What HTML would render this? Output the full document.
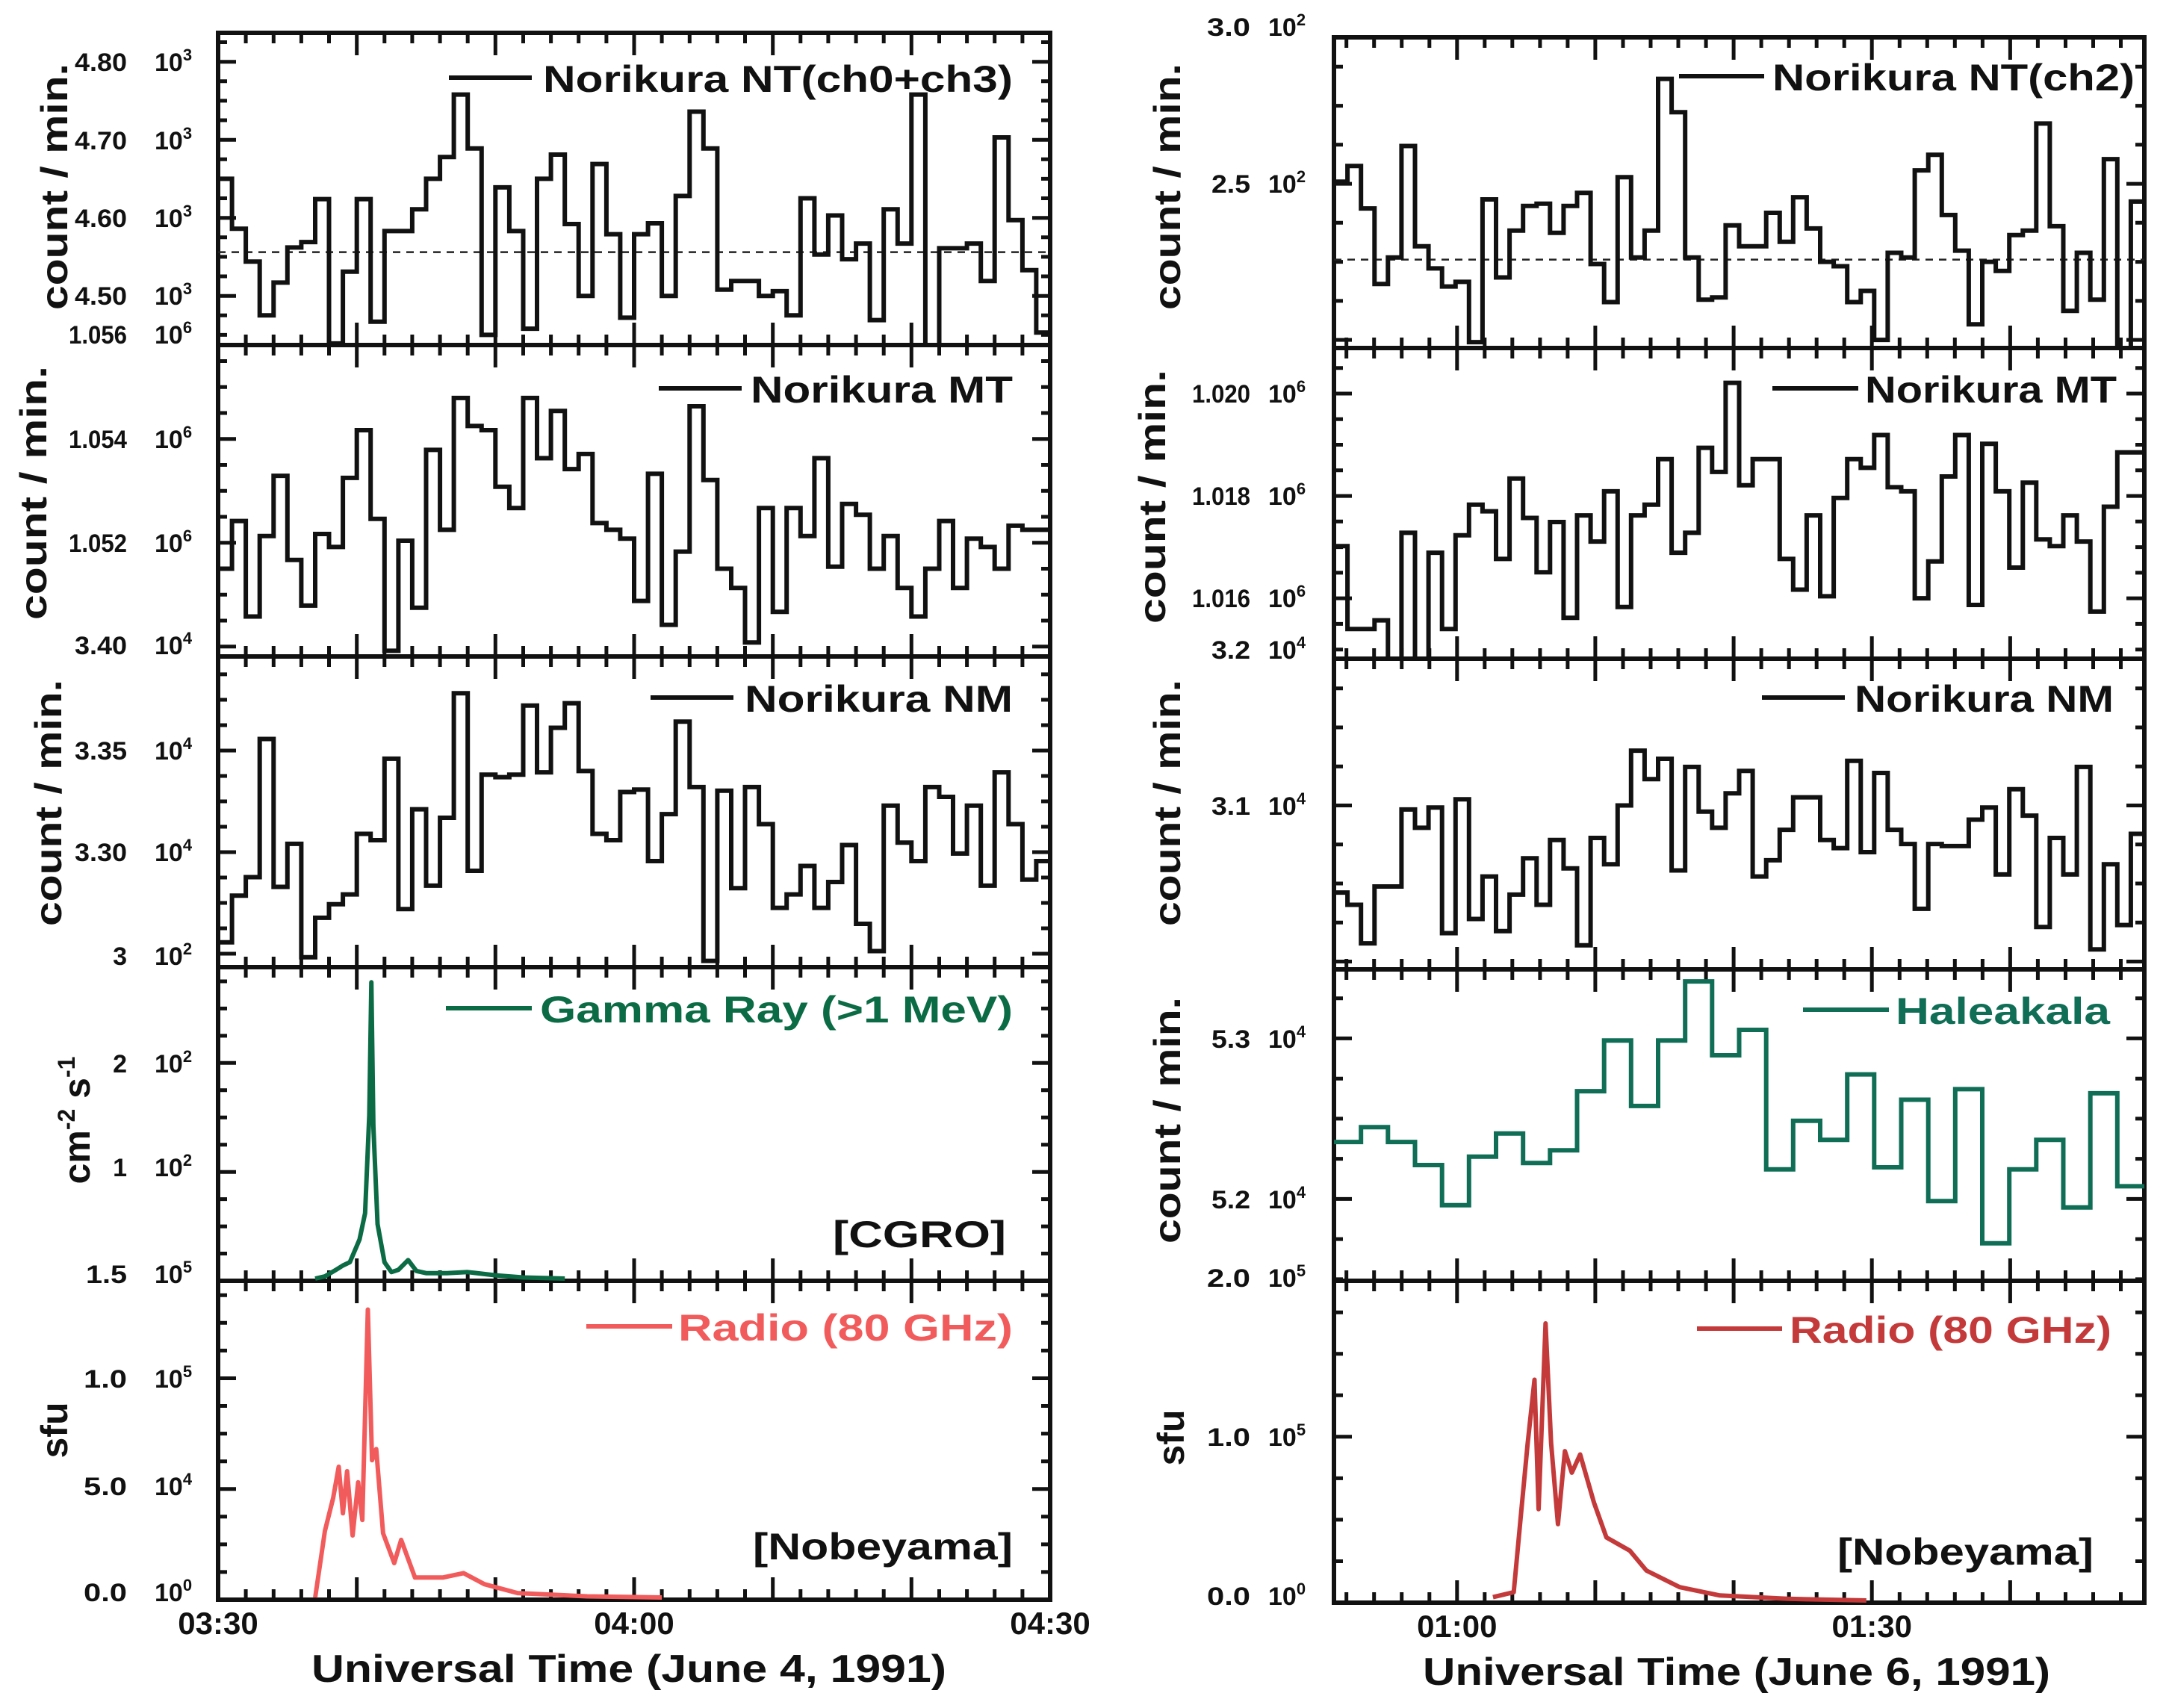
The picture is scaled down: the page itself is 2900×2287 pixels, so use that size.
<!DOCTYPE html>
<html><head><meta charset="utf-8">
<style>
html,body{margin:0;padding:0;background:#fff;}
svg{display:block;}
text{font-family:"Liberation Sans",Arial,sans-serif;font-weight:bold;fill:#111;}
</style></head>
<body>
<svg id="fig" xmlns="http://www.w3.org/2000/svg" width="2900" height="2287" viewBox="0 0 2900 2287">
<rect x="0" y="0" width="2900" height="2287" fill="#fff"/>
<g id="layer"></g>

<g font-size="34">
 <text x="170" y="95" text-anchor="end" textLength="70" lengthAdjust="spacingAndGlyphs">4.80</text>
 <text x="170" y="200" text-anchor="end" textLength="70" lengthAdjust="spacingAndGlyphs">4.70</text>
 <text x="170" y="304" text-anchor="end" textLength="70" lengthAdjust="spacingAndGlyphs">4.60</text>
 <text x="170" y="408" text-anchor="end" textLength="70" lengthAdjust="spacingAndGlyphs">4.50</text>
 <text x="170" y="460" text-anchor="end" textLength="78" lengthAdjust="spacingAndGlyphs">1.056</text>
 <text x="170" y="600" text-anchor="end" textLength="78" lengthAdjust="spacingAndGlyphs">1.054</text>
 <text x="170" y="739" text-anchor="end" textLength="78" lengthAdjust="spacingAndGlyphs">1.052</text>
 <text x="170" y="876" text-anchor="end" textLength="70" lengthAdjust="spacingAndGlyphs">3.40</text>
 <text x="170" y="1017" text-anchor="end" textLength="70" lengthAdjust="spacingAndGlyphs">3.35</text>
 <text x="170" y="1153" text-anchor="end" textLength="70" lengthAdjust="spacingAndGlyphs">3.30</text>
 <text x="170" y="1292" text-anchor="end">3</text>
 <text x="170" y="1436" text-anchor="end">2</text>
 <text x="170" y="1575" text-anchor="end">1</text>
 <text x="170" y="1718" text-anchor="end" textLength="55" lengthAdjust="spacingAndGlyphs">1.5</text>
 <text x="170" y="1858" text-anchor="end" textLength="58" lengthAdjust="spacingAndGlyphs">1.0</text>
 <text x="170" y="2002" text-anchor="end" textLength="58" lengthAdjust="spacingAndGlyphs">5.0</text>
 <text x="170" y="2144" text-anchor="end" textLength="58" lengthAdjust="spacingAndGlyphs">0.0</text>
</g>
<g font-size="34">
 <text x="207" y="95">10<tspan font-size="22" dy="-14">3</tspan></text>
 <text x="207" y="200">10<tspan font-size="22" dy="-14">3</tspan></text>
 <text x="207" y="304">10<tspan font-size="22" dy="-14">3</tspan></text>
 <text x="207" y="408">10<tspan font-size="22" dy="-14">3</tspan></text>
 <text x="207" y="460">10<tspan font-size="22" dy="-14">6</tspan></text>
 <text x="207" y="600">10<tspan font-size="22" dy="-14">6</tspan></text>
 <text x="207" y="739">10<tspan font-size="22" dy="-14">6</tspan></text>
 <text x="207" y="876">10<tspan font-size="22" dy="-14">4</tspan></text>
 <text x="207" y="1017">10<tspan font-size="22" dy="-14">4</tspan></text>
 <text x="207" y="1153">10<tspan font-size="22" dy="-14">4</tspan></text>
 <text x="207" y="1292">10<tspan font-size="22" dy="-14">2</tspan></text>
 <text x="207" y="1436">10<tspan font-size="22" dy="-14">2</tspan></text>
 <text x="207" y="1575">10<tspan font-size="22" dy="-14">2</tspan></text>
 <text x="207" y="1718">10<tspan font-size="22" dy="-14">5</tspan></text>
 <text x="207" y="1858">10<tspan font-size="22" dy="-14">5</tspan></text>
 <text x="207" y="2002">10<tspan font-size="22" dy="-14">4</tspan></text>
 <text x="207" y="2144">10<tspan font-size="22" dy="-14">0</tspan></text>
</g>
<g font-size="34">
 <text x="1674" y="48" text-anchor="end" textLength="58" lengthAdjust="spacingAndGlyphs">3.0</text>
 <text x="1674" y="258" text-anchor="end" textLength="52" lengthAdjust="spacingAndGlyphs">2.5</text>
 <text x="1674" y="539" text-anchor="end" textLength="78" lengthAdjust="spacingAndGlyphs">1.020</text>
 <text x="1674" y="676" text-anchor="end" textLength="78" lengthAdjust="spacingAndGlyphs">1.018</text>
 <text x="1674" y="813" text-anchor="end" textLength="78" lengthAdjust="spacingAndGlyphs">1.016</text>
 <text x="1674" y="882" text-anchor="end" textLength="52" lengthAdjust="spacingAndGlyphs">3.2</text>
 <text x="1674" y="1091" text-anchor="end" textLength="52" lengthAdjust="spacingAndGlyphs">3.1</text>
 <text x="1674" y="1403" text-anchor="end" textLength="52" lengthAdjust="spacingAndGlyphs">5.3</text>
 <text x="1674" y="1618" text-anchor="end" textLength="52" lengthAdjust="spacingAndGlyphs">5.2</text>
 <text x="1674" y="1723" text-anchor="end" textLength="58" lengthAdjust="spacingAndGlyphs">2.0</text>
 <text x="1674" y="1936" text-anchor="end" textLength="58" lengthAdjust="spacingAndGlyphs">1.0</text>
 <text x="1674" y="2149" text-anchor="end" textLength="58" lengthAdjust="spacingAndGlyphs">0.0</text>
</g>
<g font-size="34">
 <text x="1698" y="48">10<tspan font-size="22" dy="-14">2</tspan></text>
 <text x="1698" y="258">10<tspan font-size="22" dy="-14">2</tspan></text>
 <text x="1698" y="539">10<tspan font-size="22" dy="-14">6</tspan></text>
 <text x="1698" y="676">10<tspan font-size="22" dy="-14">6</tspan></text>
 <text x="1698" y="813">10<tspan font-size="22" dy="-14">6</tspan></text>
 <text x="1698" y="882">10<tspan font-size="22" dy="-14">4</tspan></text>
 <text x="1698" y="1091">10<tspan font-size="22" dy="-14">4</tspan></text>
 <text x="1698" y="1403">10<tspan font-size="22" dy="-14">4</tspan></text>
 <text x="1698" y="1618">10<tspan font-size="22" dy="-14">4</tspan></text>
 <text x="1698" y="1723">10<tspan font-size="22" dy="-14">5</tspan></text>
 <text x="1698" y="1936">10<tspan font-size="22" dy="-14">5</tspan></text>
 <text x="1698" y="2149">10<tspan font-size="22" dy="-14">0</tspan></text>
</g>

<g font-size="50">
 <text transform="translate(90,250) rotate(-90)" text-anchor="middle" textLength="330" lengthAdjust="spacingAndGlyphs">count / min.</text>
 <text transform="translate(62,660) rotate(-90)" text-anchor="middle" textLength="340" lengthAdjust="spacingAndGlyphs">count / min.</text>
 <text transform="translate(82,1075) rotate(-90)" text-anchor="middle" textLength="330" lengthAdjust="spacingAndGlyphs">count / min.</text>
 <text transform="translate(120,1500) rotate(-90)" text-anchor="middle">cm<tspan font-size="32" dy="-20">-2</tspan><tspan dy="20"> s</tspan><tspan font-size="32" dy="-20">-1</tspan></text>
 <text transform="translate(90,1915) rotate(-90)" text-anchor="middle">sfu</text>
 <text transform="translate(1580,250) rotate(-90)" text-anchor="middle" textLength="330" lengthAdjust="spacingAndGlyphs">count / min.</text>
 <text transform="translate(1560,665) rotate(-90)" text-anchor="middle" textLength="340" lengthAdjust="spacingAndGlyphs">count / min.</text>
 <text transform="translate(1580,1075) rotate(-90)" text-anchor="middle" textLength="330" lengthAdjust="spacingAndGlyphs">count / min.</text>
 <text transform="translate(1580,1500) rotate(-90)" text-anchor="middle" textLength="330" lengthAdjust="spacingAndGlyphs">count / min.</text>
 <text transform="translate(1585,1925) rotate(-90)" text-anchor="middle">sfu</text>
</g>

<g font-size="50">
 <g><line x1="601" y1="104" x2="712" y2="104" stroke="#111" stroke-width="6"/><text x="727" y="123" textLength="629" lengthAdjust="spacingAndGlyphs">Norikura   NT(ch0+ch3)</text></g>
 <g><line x1="882" y1="520" x2="993" y2="520" stroke="#111" stroke-width="6"/><text x="1005" y="539" textLength="351" lengthAdjust="spacingAndGlyphs">Norikura  MT</text></g>
 <g><line x1="871" y1="934" x2="982" y2="934" stroke="#111" stroke-width="6"/><text x="997" y="953" textLength="359" lengthAdjust="spacingAndGlyphs">Norikura  NM</text></g>
 <g><line x1="597" y1="1350" x2="712" y2="1350" stroke="#0b6b44" stroke-width="6"/><text x="723" y="1369" textLength="633" lengthAdjust="spacingAndGlyphs" style="fill:#0b6b44">Gamma  Ray  (&gt;1  MeV)</text></g>
 <g><line x1="785" y1="1776" x2="900" y2="1776" stroke="#f25b5b" stroke-width="6"/><text x="908" y="1795" textLength="448" lengthAdjust="spacingAndGlyphs" style="fill:#f25b5b">Radio  (80  GHz)</text></g>
 <text x="1115" y="1670" textLength="232" lengthAdjust="spacingAndGlyphs">[CGRO]</text>
 <text x="1008" y="2088" textLength="348" lengthAdjust="spacingAndGlyphs">[Nobeyama]</text>
 <g><line x1="2248" y1="102" x2="2362" y2="102" stroke="#111" stroke-width="6"/><text x="2373" y="121" textLength="485" lengthAdjust="spacingAndGlyphs">Norikura   NT(ch2)</text></g>
 <g><line x1="2373" y1="520" x2="2488" y2="520" stroke="#111" stroke-width="6"/><text x="2497" y="539" textLength="337" lengthAdjust="spacingAndGlyphs">Norikura  MT</text></g>
 <g><line x1="2359" y1="934" x2="2470" y2="934" stroke="#111" stroke-width="6"/><text x="2483" y="953" textLength="347" lengthAdjust="spacingAndGlyphs">Norikura  NM</text></g>
 <g><line x1="2414" y1="1352" x2="2529" y2="1352" stroke="#0f6e55" stroke-width="6"/><text x="2538" y="1371" textLength="287" lengthAdjust="spacingAndGlyphs" style="fill:#0f6e55">Haleakala</text></g>
 <g><line x1="2272" y1="1779" x2="2386" y2="1779" stroke="#c43a3a" stroke-width="6"/><text x="2396" y="1798" textLength="431" lengthAdjust="spacingAndGlyphs" style="fill:#c43a3a">Radio  (80  GHz)</text></g>
 <text x="2460" y="2095" textLength="343" lengthAdjust="spacingAndGlyphs">[Nobeyama]</text>
</g>

<g font-size="52">
 <text x="842" y="2252" text-anchor="middle" textLength="850" lengthAdjust="spacingAndGlyphs">Universal Time (June 4, 1991)</text>
 <text x="2325" y="2256" text-anchor="middle" textLength="840" lengthAdjust="spacingAndGlyphs">Universal Time (June 6, 1991)</text>
</g>
</svg>
<script>
// ---------- DATA ----------
const leftNT = [4.650,4.586,4.544,4.475,4.517,4.562,4.569,4.624,4.439,4.531,4.624,4.467,4.583,4.583,4.611,4.650,4.678,4.758,4.689,4.450,4.639,4.583,4.458,4.650,4.681,4.592,4.500,4.669,4.579,4.472,4.579,4.593,4.500,4.628,4.736,4.689,4.508,4.519,4.519,4.500,4.506,4.475,4.625,4.553,4.603,4.547,4.567,4.469,4.611,4.567,4.758,4.436,4.561,4.561,4.567,4.519,4.703,4.597,4.533,4.453];
const leftNTMean = 4.556;
const leftMT = [1.0515,1.05242,1.05058,1.05213,1.05329,1.05167,1.05079,1.05217,1.05192,1.05325,1.05417,1.05246,1.04992,1.05204,1.05075,1.05379,1.05225,1.05479,1.05425,1.05417,1.05308,1.05267,1.05479,1.05363,1.05454,1.05342,1.05371,1.05238,1.05225,1.05208,1.05088,1.05333,1.05042,1.05183,1.05463,1.05321,1.0515,1.05113,1.05008,1.05267,1.05067,1.05267,1.05213,1.05363,1.05154,1.05275,1.05254,1.0515,1.05213,1.05113,1.05058,1.0515,1.05242,1.05113,1.05208,1.05192,1.0515,1.05233,1.05225,1.05225];
const leftNM = [3.2556,3.2786,3.2877,3.3557,3.2829,3.3041,3.2483,3.2677,3.2744,3.2792,3.309,3.3059,3.346,3.272,3.3211,3.2835,3.3169,3.3782,3.2908,3.3381,3.3369,3.3381,3.3721,3.3393,3.3612,3.3733,3.3399,3.309,3.3059,3.3296,3.3308,3.2956,3.3187,3.3642,3.332,3.2465,3.3302,3.2823,3.332,3.3138,3.2726,3.2792,3.2932,3.2726,3.2853,3.3035,3.2647,3.2513,3.3229,3.3047,3.2956,3.332,3.3272,3.2993,3.3229,3.2835,3.3393,3.3138,3.2865,3.2956];
const gammaT = [7,7.7,8.5,9,9.5,10,10.2,10.6,10.9,11.05,11.2,11.5,12,12.5,13,13.7,14.3,15,16.5,18,20,22,25];
const gammaV = [0,0.02,0.08,0.12,0.15,0.3,0.36,0.6,1.5,2.72,1.4,0.5,0.15,0.06,0.08,0.17,0.07,0.05,0.05,0.06,0.03,0.01,0];
const radioLT = [7.0,7.7,8.3,8.7,9.0,9.3,9.7,10.1,10.4,10.8,11.1,11.4,11.9,12.7,13.2,14.2,16.2,17.7,19.2,21.6,26.6,32];
const radioLV = [0,0.30,0.45,0.59,0.38,0.57,0.28,0.52,0.35,1.30,0.62,0.67,0.29,0.155,0.26,0.09,0.09,0.11,0.06,0.02,0.005,0];
const rightNT = [2.507,2.557,2.421,2.179,2.264,2.621,2.3,2.229,2.171,2.186,1.993,2.45,2.2,2.35,2.429,2.436,2.343,2.429,2.471,2.243,2.121,2.521,2.264,2.35,2.836,2.729,2.264,2.129,2.136,2.367,2.3,2.3,2.407,2.314,2.457,2.357,2.25,2.236,2.121,2.157,2.0,2.279,2.264,2.543,2.593,2.4,2.286,2.05,2.25,2.221,2.336,2.35,2.693,2.364,2.093,2.279,2.129,2.579,1.971,2.443];
const rightNTMean = 2.257;
const rightMT = [1.01702,1.0154,1.0154,1.01557,1.01481,1.01728,1.01481,1.01689,1.0154,1.01723,1.01783,1.0177,1.01677,1.01834,1.01757,1.01651,1.01749,1.01562,1.01762,1.01711,1.01809,1.01583,1.01762,1.01783,1.01872,1.01689,1.01728,1.01894,1.01847,1.02021,1.01821,1.01872,1.01872,1.01677,1.01617,1.01762,1.01604,1.01796,1.01872,1.01855,1.01919,1.01817,1.01809,1.016,1.01672,1.01838,1.01919,1.01587,1.01902,1.01809,1.0166,1.01826,1.01715,1.01702,1.01762,1.01711,1.01574,1.01779,1.01885,1.01885];
const rightNM = [3.0442,3.0364,3.0117,3.0481,3.0481,3.0974,3.0857,3.0987,3.0182,3.1039,3.0273,3.0545,3.0195,3.0429,3.0662,3.0364,3.0779,3.0597,3.0104,3.0792,3.0623,3.1,3.1351,3.1169,3.1299,3.0584,3.1247,3.0961,3.0857,3.1078,3.1221,3.0545,3.0649,3.0844,3.1052,3.1052,3.0779,3.0727,3.1286,3.0701,3.1208,3.0844,3.0753,3.0338,3.0753,3.074,3.074,3.0909,3.0987,3.0558,3.1104,3.0935,3.0221,3.0792,3.0558,3.1247,3.0078,3.0623,3.0234,3.0818];
const haleakala = [5.2355,5.2447,5.2355,5.2211,5.1961,5.2263,5.2408,5.2224,5.2303,5.2671,5.2987,5.2579,5.2987,5.3355,5.2895,5.3053,5.2184,5.2487,5.2368,5.2776,5.2197,5.2618,5.1987,5.2684,5.1724,5.2184,5.2368,5.1947,5.2658,5.2079];
const radioRT = [62.6,64.1,64.6,65.1,65.6,65.9,66.4,66.8,67.3,67.8,68.3,68.9,69.9,70.8,72.5,73.7,76.1,79.0,83.9,89.6];
const radioRV = [0.02,0.05,0.5,0.94,1.33,0.55,1.67,0.95,0.46,0.9,0.77,0.88,0.59,0.38,0.3,0.18,0.08,0.03,0.01,0];
const leftXTicks = [0,30,60];
const leftXLabels = ["03:30","04:00","04:30"];
const rightXTicks = [60,90];
const rightXLabels = ["01:00","01:30"];

// ---------- LAYOUT ----------
const NS = "http://www.w3.org/2000/svg";
const layer = document.getElementById('layer');
function mk(tag, attrs, parent){
  const el = document.createElementNS(NS, tag);
  for (const k in attrs) el.setAttribute(k, attrs[k]);
  (parent||layer).appendChild(el);
  return el;
}
const L = {x0:292, x1:1406, t0:0, t1:60};
const R = {x0:1786, x1:2871, t0:51.1, t1:109.7};
function xs(col, t){ return col.x0 + (t-col.t0)/(col.t1-col.t0)*(col.x1-col.x0); }

const panels = [
 {id:'left-nt', col:L, y0:44, y1:462, ymin:4.437, ymax:4.837, ticks:[4.5,4.6,4.7,4.8], minor:0.025},
 {id:'left-mt', col:L, y0:462, y1:879, ymin:1.04981, ymax:1.05581, ticks:[1.050,1.052,1.054], minor:0.0005},
 {id:'left-nm', col:L, y0:879, y1:1295, ymin:3.2434, ymax:3.3963, ticks:[3.25,3.30,3.35], minor:0.0125},
 {id:'left-gamma', col:L, y0:1295, y1:1715, ymin:0, ymax:2.88, ticks:[0,1,2], minor:0.25},
 {id:'left-radio', col:L, y0:1715, y1:2142, ymin:0, ymax:1.44, ticks:[0,0.5,1.0], minor:0.125},
 {id:'right-nt', col:R, y0:50, y1:466, ymin:1.974, ymax:2.969, ticks:[2.0,2.5], minor:0.125},
 {id:'right-mt', col:R, y0:466, y1:882, ymin:1.01482, ymax:1.02089, ticks:[1.016,1.018,1.020], minor:0.0005},
 {id:'right-nm', col:R, y0:882, y1:1298, ymin:2.995, ymax:3.194, ticks:[3.0,3.1], minor:0.025},
 {id:'right-haleakala', col:R, y0:1298, y1:1715, ymin:5.149, ymax:5.343, ticks:[5.2,5.3], minor:0.025},
 {id:'right-radio', col:R, y0:1715, y1:2146, ymin:0, ymax:1.94, ticks:[0,1.0], minor:0.25}
];
function ys(p, v){ return p.y1 - (v-p.ymin)/(p.ymax-p.ymin)*(p.y1-p.y0); }

const defs = mk('defs', {});
panels.forEach(p=>{
  const cp = mk('clipPath', {id:'clip-'+p.id}, defs);
  mk('rect', {x:p.col.x0, y:p.y0, width:p.col.x1-p.col.x0, height:p.y1-p.y0}, cp);
});

function drawHist(p, vals, color, name){
  const n = vals.length, w = (p.col.x1-p.col.x0)/n;
  let d = 'M'+p.col.x0+','+ys(p,vals[0]).toFixed(1);
  for (let i=0;i<n;i++){
    const y = ys(p,vals[i]).toFixed(1);
    if (i>0) d += ' V'+y;
    d += ' H'+(p.col.x0+(i+1)*w).toFixed(1);
  }
  const el = mk('path', {d:d, fill:'none', stroke:color, 'stroke-width':6, 'stroke-linejoin':'miter', 'clip-path':'url(#clip-'+p.id+')'});
  
  
}
function drawLine(p, ts, vs, color, name, sw){
  let d = '';
  for (let i=0;i<ts.length;i++){
    d += (i?' L':'M') + xs(p.col,ts[i]).toFixed(1)+','+(ys(p,vs[i])-3).toFixed(1);
  }
  const el = mk('path', {d:d, fill:'none', stroke:color, 'stroke-width':sw, 'stroke-linejoin':'round', 'clip-path':'url(#clip-'+p.id+')'});
  
  
}
function drawMean(p, v, name){
  const y = ys(p,v);
  const el = mk('line', {x1:p.col.x0, x2:p.col.x1, y1:y, y2:y, stroke:'#222', 'stroke-width':2.5, 'stroke-dasharray':'10,8'});
  
  
}

panels.forEach(p=>{
  const c = p.col;
  let d = '';
  for (let t=Math.ceil(c.t0/2)*2; t<=c.t1; t+=2){
    const x = xs(c,t).toFixed(1);
    const len = (t%10===0)?30:14;
    d += 'M'+x+','+p.y0+' v'+len+' M'+x+','+p.y1+' v'+(-len)+' ';
  }
  const k0 = Math.ceil(p.ymin/p.minor - 1e-6), k1 = Math.floor(p.ymax/p.minor + 1e-6);
  for (let k=k0;k<=k1;k++){
    const v = k*p.minor;
    const y = ys(p,v).toFixed(1);
    const major = p.ticks.some(t=>Math.abs(t-v)<p.minor*0.1);
    const len = major?24:12;
    d += 'M'+c.x0+','+y+' h'+len+' M'+c.x1+','+y+' h'+(-len)+' ';
  }
  const tk = mk('path', {d:d, stroke:'#111', 'stroke-width':5, fill:'none'});
  
  
  const fr = mk('rect', {x:c.x0, y:p.y0, width:c.x1-c.x0, height:p.y1-p.y0, fill:'none', stroke:'#111', 'stroke-width':6});
  
  
});

drawMean(panels[0], leftNTMean, 'left-nt-mean-line');
drawHist(panels[0], leftNT, '#111', 'left-nt-series');
drawHist(panels[1], leftMT, '#111', 'left-mt-series');
drawHist(panels[2], leftNM, '#111', 'left-nm-series');
drawLine(panels[3], gammaT, gammaV, '#0b6b44', 'gamma-ray-series', 6);
drawLine(panels[4], radioLT, radioLV, '#f25b5b', 'left-radio-series', 6);
drawMean(panels[5], rightNTMean, 'right-nt-mean-line');
drawHist(panels[5], rightNT, '#111', 'right-nt-series');
drawHist(panels[6], rightMT, '#111', 'right-mt-series');
drawHist(panels[7], rightNM, '#111', 'right-nm-series');
drawHist(panels[8], haleakala, '#0f6e55', 'haleakala-series');
drawLine(panels[9], radioRT, radioRV, '#c43a3a', 'right-radio-series', 6);

leftXTicks.forEach((t,i)=>{
  const el = mk('text', {x:xs(L,t), y:2188, 'font-size':42, 'text-anchor':'middle'});
  el.textContent = leftXLabels[i];
  
  
});
rightXTicks.forEach((t,i)=>{
  const el = mk('text', {x:xs(R,t), y:2192, 'font-size':42, 'text-anchor':'middle'});
  el.textContent = rightXLabels[i];
  
  
});
</script>
</body></html>
